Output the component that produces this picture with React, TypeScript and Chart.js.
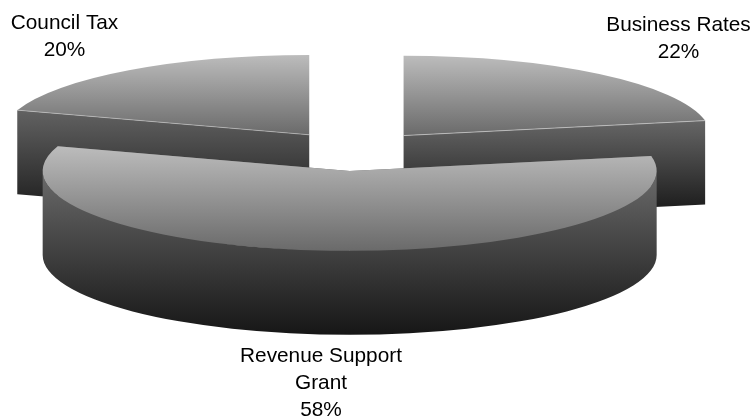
import React, { useEffect, useRef } from "react";
import { Chart, PieController, registerables } from "chart.js";

// Slices in paint order: the large front slice goes last so it overlaps the others.
const sliceNames = ["Council Tax", "Business Rates", "Revenue Support Grant"];
const sliceShares = [20, 22, 58];
const labelLines = [["Council Tax"], ["Business Rates"], ["Revenue Support", "Grant"]];

const labelCentres = [
  { x: 64.5, y: 23 },
  { x: 678.5, y: 25 },
  { x: 321, y: 356 },
];

const topShades = [
  ["#bcbcbc", "#6a6a6a"],
  ["#bcbcbc", "#6a6a6a"],
  ["#bcbcbc", "#6a6a6a"],
];
const wallShades = [
  ["#626262", "#181818"],
  ["#666666", "#141414"],
  ["#777777", "#161616"],
];
const seamShades = ["rgba(205,205,205,0.55)", "rgba(205,205,205,0.7)", null];

const EXPLODE = 77;
const RADIUS = 307;
const TILT = 0.26;
const DEPTH = 84;
const LINE_HEIGHT = 27;

const shadeRamp = (ctx: CanvasRenderingContext2D, y0: number, y1: number, [a, b]: string[]) => {
  const g = ctx.createLinearGradient(0, y0, 0, y1);
  g.addColorStop(0, a);
  g.addColorStop(1, b);
  return g;
};

// Pie controller that paints each arc as a tilted, extruded and exploded wedge.
class ExplodedDiscController extends PieController {
  static id = "explodedDisc";

  draw() {
    const ctx = this.chart.ctx;
    const elements = this.getMeta().data;
    elements.forEach((arc: any, i: number) => {
      const { x, y, startAngle: a0, endAngle: a1, outerRadius: r } = arc;
      const mid = (a0 + a1) / 2;
      const ex = Math.cos(mid) * EXPLODE;
      const ey = Math.sin(mid) * EXPLODE;
      const cx = x + ex;
      const cy = y + ey * TILT;
      const at = (t: number) => ({ x: cx + Math.cos(t) * r, y: cy + Math.sin(t) * r * TILT });

      // Vertical reach of the wedge, needed for both shading ramps.
      const turn = Math.PI * 2;
      const spans = (t: number) => {
        const d = ((t - a0) % turn + turn) % turn;
        return d <= a1 - a0;
      };
      const sines = [0, Math.sin(a0), Math.sin(a1)];
      if (spans(Math.PI / 2)) sines.push(1);
      if (spans(-Math.PI / 2)) sines.push(-1);
      const loSin = Math.min(...sines);
      const hiSin = Math.max(...sines);

      // Cut faces seen edge-on have no area and do not set the wall's upper limit.
      const cuts = [a0, a1].filter((t) => Math.abs(Math.cos(t)) > 0.01);
      const wallTop = cy + Math.min(0, ...cuts.map((t) => Math.sin(t))) * r * TILT;

      // Side walls: the two cut faces, then the outer rim where it faces forward.
      ctx.save();
      ctx.fillStyle = shadeRamp(ctx, wallTop, cy + hiSin * r * TILT + DEPTH, wallShades[i]);
      cuts.forEach((t) => {
        const p = at(t);
        ctx.beginPath();
        ctx.moveTo(cx, cy);
        ctx.lineTo(p.x, p.y);
        ctx.lineTo(p.x, p.y + DEPTH);
        ctx.lineTo(cx, cy + DEPTH);
        ctx.closePath();
        ctx.fill();
      });
      const from = Math.max(a0, 0);
      const to = Math.min(a1, Math.PI);
      if (to > from) {
        ctx.beginPath();
        ctx.ellipse(cx, cy, r, r * TILT, 0, from, to);
        ctx.ellipse(cx, cy + DEPTH, r, r * TILT, 0, to, from, true);
        ctx.closePath();
        ctx.fill();
      }
      ctx.restore();

      // Top face: the library's arc, squashed about the chart centre.
      ctx.save();
      ctx.translate(0, y);
      ctx.scale(1, TILT);
      ctx.translate(0, -y);
      ctx.translate(ex, ey);
      const base = arc.options;
      arc.options = {
        ...base,
        backgroundColor: shadeRamp(ctx, y + loSin * r, y + hiSin * r, topShades[i]),
      };
      arc.draw(ctx);
      arc.options = base;
      ctx.restore();

      // Thin highlight where a cut face meets the top face.
      const seam = seamShades[i];
      if (seam) {
        ctx.save();
        ctx.strokeStyle = seam;
        ctx.lineWidth = 1;
        cuts.forEach((t) => {
          const p = at(t);
          ctx.beginPath();
          ctx.moveTo(cx, cy);
          ctx.lineTo(p.x, p.y);
          ctx.stroke();
        });
        ctx.restore();
      }
    });
  }
}

Chart.register(...registerables, ExplodedDiscController);

// Writes each slice's name and share at its anchor.
const shareLabels = {
  id: "shareLabels",
  afterDraw(chart: Chart) {
    const { ctx } = chart;
    ctx.save();
    ctx.font = '20.8px "Liberation Sans"';
    ctx.fillStyle = "#000000";
    ctx.textAlign = "center";
    ctx.textBaseline = "middle";
    labelCentres.forEach((c, i) => {
      const lines = [...labelLines[i], `${sliceShares[i]}%`];
      lines.forEach((text, n) => ctx.fillText(text, c.x, c.y + n * LINE_HEIGHT));
    });
    ctx.restore();
  },
};

export default function App() {
  const canvasRef = useRef<HTMLCanvasElement>(null);

  useEffect(() => {
    const chart = new Chart(canvasRef.current!, {
      type: "explodedDisc" as any,
      data: {
        labels: sliceNames,
        datasets: [
          {
            data: sliceShares,
            borderWidth: 0,
            clip: false,
          } as any,
        ],
      },
      options: {
        responsive: false,
        animation: false,
        events: [],
        rotation: -72,
        radius: RADIUS,
        layout: { padding: { left: 0, top: 0, right: 43, bottom: 116 } },
        plugins: { legend: { display: false }, tooltip: { enabled: false } },
      } as any,
      plugins: [shareLabels],
    });
    return () => chart.destroy();
  }, []);

  return (
    <canvas
      ref={canvasRef}
      width={752}
      height={418}
      style={{ position: "absolute", left: 0, top: 0, display: "block" }}
    />
  );
}
